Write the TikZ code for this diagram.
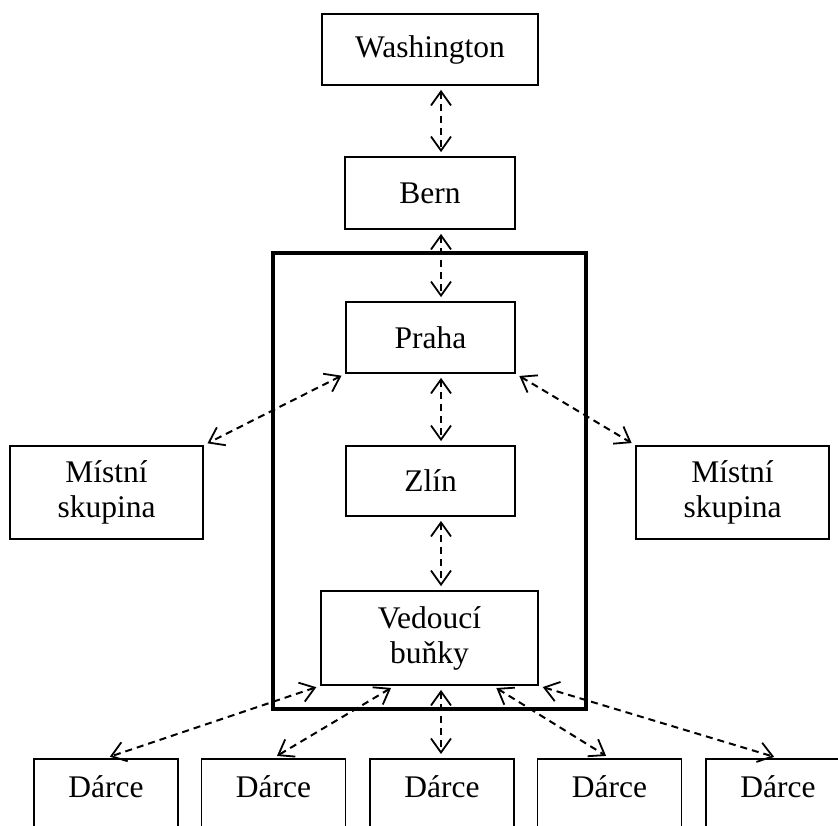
\documentclass[tikz,border=0pt]{standalone}
\usepackage{fontspec}
\setmainfont{Liberation Serif}
\usetikzlibrary{arrows.meta,calc}
\tikzset{
  box/.style={draw, line width=1.8pt, inner sep=0pt, align=center,
    font=\fontsize{31.5}{35}\selectfont},
  darce/.style={box, minimum width=144pt, text height=39pt, text depth=60pt, anchor=north},
  barb/.tip={Straight Barb[length=14pt,width=20pt,line width=1.8pt]},
  link/.style={line width=2pt, dash pattern=on 7pt off 5pt, barb-barb,
    shorten <=4pt, shorten >=4pt},
}
\begin{document}
\begin{tikzpicture}[x=1pt,y=-1pt]
\clip (0,0) rectangle (838,825);
% thick frame round Praha, Zlin and Vedouci
\draw[line width=4pt] (273,253) rectangle (586,709);
% boxes of the chain
\node[box, minimum width=216pt, minimum height=71pt] (wash) at (430,49.5) {Washington};
\node[box, minimum width=170pt, minimum height=72pt] (bern) at (430,193) {Bern};
\node[box, minimum width=169pt, minimum height=71pt] (praha) at (430.5,337.5) {Praha};
\node[box, minimum width=169pt, minimum height=70pt] (zlin) at (430.5,481) {Zlín};
\node[box, minimum width=217pt, minimum height=94pt] (ved) at (429.5,638) {Vedoucí\\ buňky};
% local groups
\node[box, minimum width=193pt, minimum height=93pt] (mistL) at (106.5,492.5) {Místní\\ skupina};
\node[box, minimum width=193pt, minimum height=93pt] (mistR) at (732.5,492.5) {Místní\\ skupina};
% donors
\node[darce] (d1) at (106,758) {Dárce};
\node[darce] (d2) at (273.5,758) {Dárce};
\node[darce] (d3) at (442,758) {Dárce};
\node[darce] (d4) at (609.5,758) {Dárce};
\node[darce] (d5) at (778,758) {Dárce};
% vertical links
\coordinate (axis) at (441,0);
\draw[link] (wash.south -| axis) -- (bern.north -| axis);
\draw[link] (bern.south -| axis) -- (praha.north -| axis);
\draw[link] (praha.south -| axis) -- (zlin.north -| axis);
\draw[link] (zlin.south -| axis) -- (ved.north -| axis);
% links to local groups
\draw[link] (praha.south west) -- (mistL.north east);
\draw[link] (praha.south east) -- (mistR.north west);
% links to donors
\draw[link] (ved.south west) -- (d1.north);
\draw[link] ($(ved.south west)!0.34!(ved.south east)$) -- (d2.north);
\draw[link] (ved.south -| axis) -- (d3.north -| axis);
\draw[link] ($(ved.south west)!0.79!(ved.south east)$) -- (d4.north);
\draw[link] (ved.south east) -- (d5.north);
\end{tikzpicture}
\end{document}
